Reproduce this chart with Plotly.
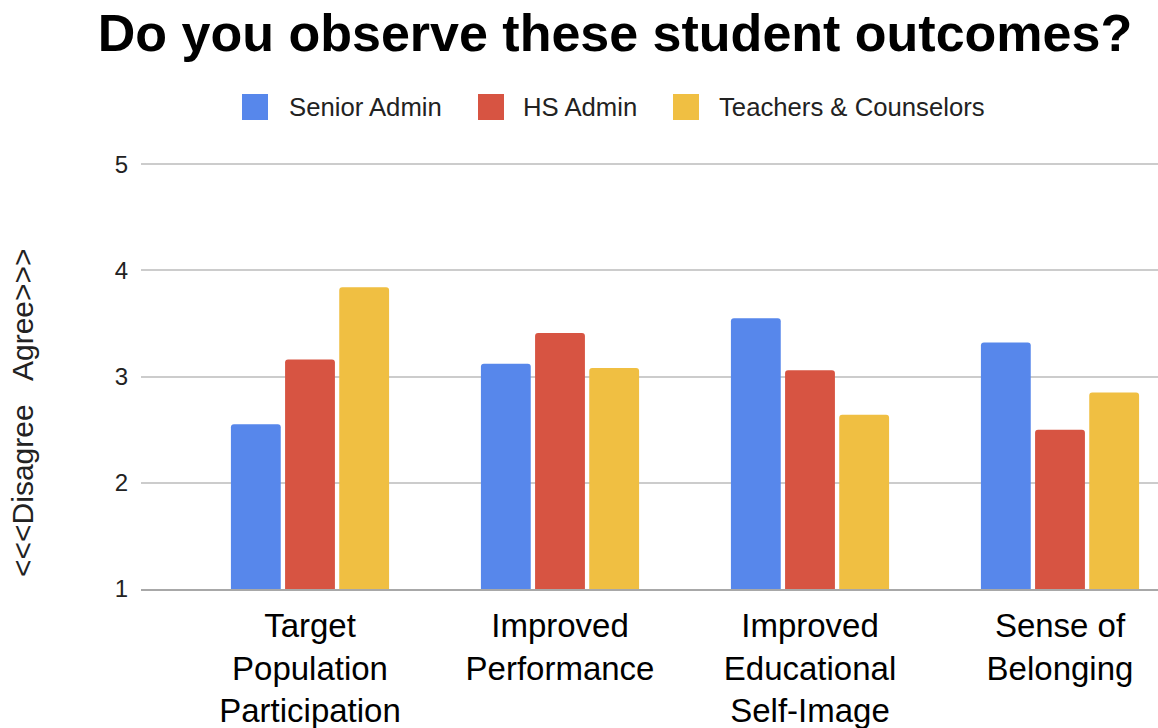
import plotly.graph_objects as go

# Survey categories (x axis) and mean ratings per respondent group
categories = [
    "Target<br>Population<br>Participation",
    "Improved<br>Performance",
    "Improved<br>Educational<br>Self-Image",
    "Sense of<br>Belonging",
]
series_names = ["Senior Admin", "HS Admin", "Teachers & Counselors"]
senior_admin = [2.55, 3.12, 3.55, 3.32]
hs_admin = [3.16, 3.41, 3.06, 2.50]
teachers_counselors = [3.84, 3.08, 2.64, 2.85]
y_ticks = [1, 2, 3, 4, 5]

colors = ["#5787EB", "#D75442", "#F0BF42"]
FONT = "Arial, 'Liberation Sans', sans-serif"

W, H = 1158, 728
L, R, T, B = 141, 0, 162, 139
PW, PH = W - L - R, H - T - B


def px_x(px):
    """Pixel x -> paper x."""
    return (px - L) / PW


def px_y(py):
    """Pixel y (from top) -> paper y."""
    return (H - B - py) / PH


fig = go.Figure()
for name, vals, col in zip(series_names, [senior_admin, hs_admin, teachers_counselors], colors):
    fig.add_trace(go.Bar(x=categories, y=vals, name=name, marker_color=col,
                         marker_line_width=0, showlegend=False))

# Custom legend: coloured squares with labels across the top
legend_sq_x = [242, 478, 673]
legend_txt_x = [287, 521, 717]
legend_cy = 107
shapes = []
annotations = []
for name, col, sx, tx in zip(series_names, colors, legend_sq_x, legend_txt_x):
    shapes.append(dict(type="rect", xref="paper", yref="paper",
                       x0=px_x(sx), x1=px_x(sx + 26),
                       y0=px_y(legend_cy + 13), y1=px_y(legend_cy - 13),
                       fillcolor=col, line_width=0))
    annotations.append(dict(text=name, xref="paper", yref="paper",
                            x=px_x(tx), y=px_y(legend_cy), xanchor="left", yanchor="middle",
                            showarrow=False, font=dict(family=FONT, size=25.7, color="#222222")))

# Top gridline at the axis maximum
shapes.append(dict(type="line", xref="paper", yref="y", x0=0, x1=1,
                   y0=y_ticks[-1], y1=y_ticks[-1],
                   line=dict(color="#cccccc", width=1.5), layer="below"))

# Vertical axis caption
annotations.append(dict(text="<<<Disagree   Agree>>>", xref="paper", yref="paper",
                        x=px_x(22), y=px_y(413), xanchor="center", yanchor="middle",
                        textangle=-90, showarrow=False,
                        font=dict(family=FONT, size=30, color="#222222")))

fig.update_layout(
    width=W, height=H,
    margin=dict(l=L, r=R, t=T, b=B, pad=0),
    paper_bgcolor="white", plot_bgcolor="white",
    barmode="group", bargap=0.35, bargroupgap=0.08, barcornerradius=3,
    title=dict(text="<b>Do you observe these student outcomes?</b>",
               x=615 / W, xanchor="center", y=1 - 33 / H, yanchor="middle",
               font=dict(family=FONT, size=52, color="black")),
    xaxis=dict(range=[-0.676, 3.392], showline=True, linecolor="#a8a8a8", linewidth=2,
               ticks="", tickfont=dict(family=FONT, size=33, color="black"),
               ticklabelstandoff=6, showgrid=False, fixedrange=True),
    yaxis=dict(range=[1, 5.02], tickvals=y_ticks, ticks="", showline=False, zeroline=False,
               gridcolor="#cccccc", gridwidth=1.5,
               tickfont=dict(family=FONT, size=24, color="#222222"),
               ticklabelstandoff=12, fixedrange=True),
    shapes=shapes,
    annotations=annotations,
    showlegend=False,
)

fig.write_html("out.html")
